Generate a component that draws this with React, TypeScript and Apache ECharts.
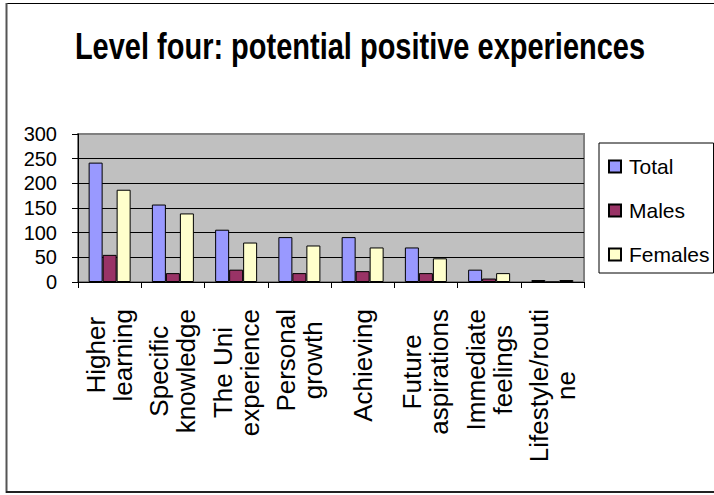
import React, { useEffect, useRef } from "react";
import * as echarts from "echarts";

const categories = [
  "Higher\nlearning",
  "Specific\nknowledge",
  "The Uni\nexperience",
  "Personal\ngrowth",
  "Achieving",
  "Future\naspirations",
  "Immediate\nfeelings",
  "Lifestyle/routi\nne",
];
const totalValues = [242, 157, 106, 91, 91, 70, 25, 4];
const malesValues = [55, 18, 25, 18, 22, 18, 7, 0];
const femalesValues = [187, 139, 80, 74, 70, 48, 18, 4];
const seriesNames = ["Total", "Males", "Females"];
const seriesColors = ["#9999FF", "#993366", "#FFFFCC"];
const titleText = "Level four: potential positive experiences";

const FONT = "'Liberation Sans', Arial, sans-serif";

export default function App() {
  const ref = useRef<HTMLDivElement>(null);

  useEffect(() => {
    if (!ref.current) return;
    const chart = echarts.init(ref.current, undefined, { renderer: "svg" });
    const values = [totalValues, malesValues, femalesValues];
    chart.setOption({
      animation: false,
      backgroundColor: "#ffffff",
      textStyle: { fontFamily: FONT },
      graphic: [
        {
          type: "line",
          shape: { x1: 6, y1: 3.5, x2: 714, y2: 3.5 },
          style: { stroke: "#000", lineWidth: 1 },
        },
        {
          type: "line",
          shape: { x1: 6.5, y1: 3, x2: 6.5, y2: 493 },
          style: { stroke: "#555", lineWidth: 2 },
        },
        {
          type: "line",
          shape: { x1: 6, y1: 492, x2: 714, y2: 492 },
          style: { stroke: "#222", lineWidth: 2 },
        },
        {
          type: "text",
          x: 360,
          y: 46,
          scaleY: 1.26,
          style: {
            text: titleText,
            fontFamily: FONT,
            fontSize: 29,
            fontWeight: "bold",
            fill: "#000",
            align: "center",
            verticalAlign: "middle",
            textAlign: "center",
            textVerticalAlign: "middle",
          },
        },
      ],
      legend: {
        orient: "vertical",
        left: 599,
        top: 143,
        padding: [13, 4, 8, 9],
        itemWidth: 12,
        itemHeight: 12,
        itemGap: 23,
        icon: "rect",
        borderColor: "#000",
        borderWidth: 1,
        backgroundColor: "#fff",
        data: seriesNames,
        textStyle: {
          fontFamily: FONT,
          fontSize: 21,
          lineHeight: 21,
          color: "#000",
          padding: [0, 0, 0, 3],
        },
      },
      grid: {
        left: 78,
        right: 130,
        top: 134,
        bottom: 213,
        show: true,
        backgroundColor: "#C0C0C0",
        borderColor: "#808080",
        borderWidth: 2,
      },
      xAxis: {
        type: "category",
        data: categories,
        boundaryGap: true,
        axisLine: { show: true, lineStyle: { color: "#000", width: 1 } },
        axisTick: { show: true, length: 6, lineStyle: { color: "#000" } },
        axisLabel: {
          interval: 0,
          rotate: 90,
          margin: 27,
          color: "#000",
          fontFamily: FONT,
          fontSize: 26,
          lineHeight: 27,
          formatter: (v: string) =>
            v
              .split("\n")
              .map((l) => "{c|" + l + "}")
              .join("\n"),
          rich: {
            c: {
              align: "center",
              fontFamily: FONT,
              fontSize: 26,
              lineHeight: 27,
              color: "#000",
            },
          },
        },
        splitLine: { show: false },
      },
      yAxis: {
        type: "value",
        min: 0,
        max: 300,
        interval: 50,
        axisLine: { show: true, lineStyle: { color: "#000", width: 1 } },
        axisTick: { show: true, length: 6, lineStyle: { color: "#000" } },
        axisLabel: {
          margin: 21,
          color: "#000",
          fontFamily: FONT,
          fontSize: 20,
        },
        splitLine: {
          show: true,
          lineStyle: {
            color: ["#000", "#000", "#000", "#000", "#000", "#000", "#808080"],
            width: 1,
          },
        },
      },
      series: seriesNames.map((name, i) => ({
        name,
        type: "bar",
        data: values[i],
        barWidth: 14,
        barGap: "0%",
        itemStyle: {
          color: seriesColors[i],
          borderColor: "#000",
          borderWidth: 1,
        },
      })),
    });
    return () => chart.dispose();
  }, []);

  return (
    <div
      ref={ref}
      style={{ position: "absolute", left: 0, top: 0, width: 714, height: 495 }}
    />
  );
}
